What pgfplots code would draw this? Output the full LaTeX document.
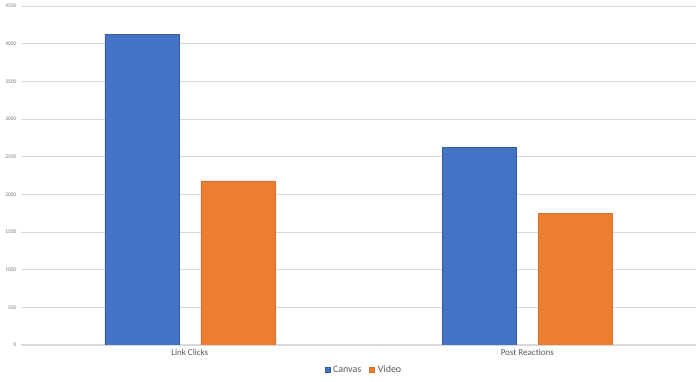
\documentclass[border=0pt]{standalone}
\usepackage{pgfplots}
\pgfplotsset{compat=1.18}
\usepackage{fontspec}
\setmainfont{Carlito}
\definecolor{cblue}{HTML}{4472C4}
\definecolor{corange}{HTML}{ED7D31}
\definecolor{cgrid}{HTML}{D9D9D9}
\definecolor{ctext}{HTML}{595959}
\begin{document}
\begin{tikzpicture}
\path[use as bounding box] (0,0) rectangle (700pt,382pt);
\begin{axis}[
  at={(21pt,37pt)}, anchor=south west,
  scale only axis, width=675pt, height=339pt,
  ybar=22pt, bar width=74pt,
  xmin=-0.5, xmax=1.5, ymin=0, ymax=4500,
  xtick={0,1}, xticklabels={Link Clicks, Post Reactions},
  ytick={0,500,...,4500},
  ymajorgrids, grid style={cgrid, line width=0.8pt},
  axis line style={draw=none},
  extra y ticks={0}, extra y tick style={grid style={cgrid, line width=1pt}, yticklabels={}},
  major tick length=0pt,
  tick style={draw=none},
  /pgf/number format/assume math mode=true,
  /pgf/number format/set thousands separator={},
  yticklabel style={font=\fontsize{5.5}{6}\selectfont, text=ctext!80, xshift=-1pt},
  xticklabel style={font=\fontsize{9}{10}\selectfont, text=ctext, yshift=-1pt},
  legend style={at={(0.508,-0.073)}, anchor=center, draw=none, fill=none,
    font=\fontsize{10}{11}\selectfont, text=ctext, legend columns=-1,
    /tikz/every odd column/.append style={column sep=1pt},
    /tikz/every even column/.append style={column sep=6pt}},
  legend image code/.code={\draw[#1, draw opacity=1] (0pt,-2.5pt) rectangle (5pt,2.5pt);},
]
\addplot[fill=cblue, draw=cblue!80!black, line width=0.5pt] coordinates {(0,4128) (1,2628)};
\addplot[fill=corange, draw=corange!90!black, line width=0.5pt] coordinates {(0,2177) (1,1752)};
\legend{Canvas, Video}
\end{axis}
\end{tikzpicture}
\end{document}
